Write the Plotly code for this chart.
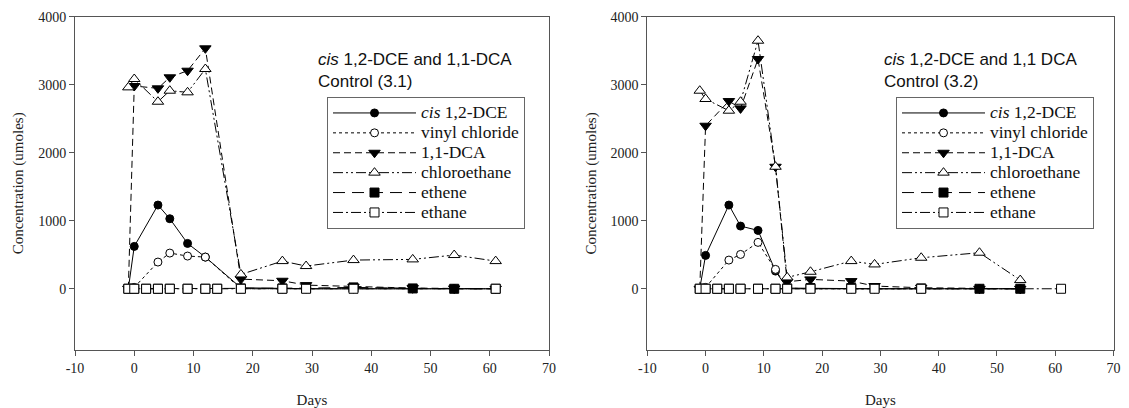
import plotly.graph_objects as go

# ---- data ----
series_names = ["<i>cis</i> 1,2-DCE", "vinyl chloride", "1,1-DCA",
                "chloroethane", "ethene", "ethane"]

# Control (3.1)
days_a = [-1, 0, 4, 6, 9, 12, 18, 25, 29, 37, 47, 54, 61]
cis_a = [0, 623, 1231, 1030, 667, 466, 15, 5, 0, 0, 0, 0, 0]
vc_a = [0, 20, 393, 525, 481, 466, 0, 0, 0, 0, 0, 0, 0]
dca_a = [0, 2981, 2947, 3109, 3206, 3535, 142, 118, 54, 30, 10, 5, 0]
ce_a = [2961, 3084, 2750, 2912, 2888, 3231, 211, 407, 334, 422, 432, 496, 407]
ethene_days_a = [-1, 0, 2, 4, 6, 9, 12, 14, 18, 25, 29, 37, 47, 54, 61]
ethene_a = [0, 0, 0, 0, 0, 0, 0, 0, 5, 5, 10, 20, 5, 0, 0]
ethane_days_a = [-1, 0, 2, 4, 6, 9, 12, 14, 18, 25, 29, 37, 61]
ethane_a = [0, 0, 0, 0, 0, 0, 0, 0, 0, 0, 0, 0, 0]

# Control (3.2)
days_b = [-1, 0, 4, 6, 9, 12, 14, 18, 25, 29, 37, 47, 54]
cis_b = [0, 491, 1231, 922, 858, 260, 10, 5, 0, 0, 0, 0, 0]
vc_b = [0, 20, 422, 505, 682, 285, 10, 0, 0, 0, 0, 0, 0]
dca_b = [0, 2397, 2760, 2652, 3378, 1794, 103, 138, 113, 40, 15, 0, 0]
ce_b = [2912, 2790, 2618, 2750, 3647, 1794, 167, 250, 407, 358, 456, 530, 128]
ethene_days_b = [-1, 0, 2, 4, 6, 9, 12, 14, 18, 25, 29, 37, 47, 54]
ethene_b = [0, 0, 0, 0, 0, 0, 0, 5, 10, 10, 10, 5, 0, 0]
ethane_days_b = [-1, 0, 2, 4, 6, 9, 12, 14, 18, 25, 29, 37, 61]
ethane_b = [0, 0, 0, 0, 0, 0, 0, 0, 0, 0, 0, 0, 0]

titles = ["<i>cis</i> 1,2-DCE and 1,1-DCA<br>Control (3.1)",
          "<i>cis</i> 1,2-DCE and 1,1 DCA<br>Control (3.2)"]

x_ticks = [-10, 0, 10, 20, 30, 40, 50, 60, 70]
x_ticklabels = ["-10", "0", "10", "20", "30", "40", "50", "60", "70"]
y_ticks = [0, 1000, 2000, 3000, 4000]

# ---- styles ----
dashes = ["solid", "dot", "7px,4px", "10px,3px,2px,3px,2px,3px", "12px,7px", "10px,3px,2px,3px"]
symbols = ["circle", "circle", "triangle-down", "triangle-up", "square", "square"]
fills = ["black", "white", "black", "white", "black", "white"]
sizes = [8, 8, 10, 10, 9, 9]

panels = [
    ([days_a, days_a, days_a, days_a, ethene_days_a, ethane_days_a],
     [cis_a, vc_a, dca_a, ce_a, ethene_a, ethane_a], "x", "y", "legend"),
    ([days_b, days_b, days_b, days_b, ethene_days_b, ethane_days_b],
     [cis_b, vc_b, dca_b, ce_b, ethene_b, ethane_b], "x2", "y2", "legend2"),
]

fig = go.Figure()
for xs_list, ys_list, xa, ya, leg in panels:
    for i in range(6):
        fig.add_trace(go.Scatter(
            x=xs_list[i], y=ys_list[i], xaxis=xa, yaxis=ya, legend=leg,
            # larger text, but the legend's row height follows the smaller legend font
            name='<span style="font-size:17.5px">' + series_names[i] + "</span>",
            mode="lines+markers",
            line=dict(color="black", width=1, dash=dashes[i]),
            marker=dict(symbol=symbols[i], size=sizes[i], color=fills[i],
                        line=dict(color="black", width=1)),
        ))

# the page body has an 8px margin: lay out in a figure that fits inside it
OFF = 8
W, H = 1129 - 2 * OFF, 408 - OFF

def px(x):
    return (x - OFF) / W

def py(y):
    return 1 - (y - OFF) / H

axis_col = "#555555"
tickfont = dict(family="Liberation Serif", size=14, color="#222222")
titlefont = dict(family="Liberation Serif", size=15, color="#222222")

def xax(dom, anchor):
    return dict(domain=dom, range=[-10, 70], tickvals=x_ticks, ticktext=x_ticklabels,
                ticks="outside", ticklen=5, tickcolor=axis_col, showline=True,
                linecolor=axis_col, linewidth=1, mirror=True, showgrid=False,
                zeroline=False, tickfont=tickfont, automargin=False, anchor=anchor,
                ticklabeloverflow="allow",
                title=dict(text="Days", font=titlefont, standoff=23))

def yax(anchor):
    return dict(domain=[py(350), py(16.7)], range=[-900, 4000], tickvals=y_ticks,
                ticks="outside", ticklen=5, tickcolor=axis_col, showline=True,
                linecolor=axis_col, linewidth=1, mirror=True, showgrid=False,
                zeroline=False, tickfont=tickfont, automargin=False, anchor=anchor,
                ticklabeloverflow="allow",
                title=dict(text="Concentration (umoles)", font=titlefont, standoff=10))

legend_style = dict(xanchor="left", yanchor="top", bgcolor="white",
                    bordercolor="#666666", borderwidth=1, itemwidth=83,
                    font=dict(family="Liberation Serif", size=13, color="#111111"),
                    tracegroupgap=0, itemclick=False)

fig.update_layout(
    width=W, height=H, template="none", showlegend=True,
    paper_bgcolor="white", plot_bgcolor="white",
    margin=dict(l=0, r=0, t=0, b=0),
    xaxis=xax([px(75), px(549)], "y"), yaxis=yax("x"),
    xaxis2=xax([px(647.3), px(1113.5)], "y2"), yaxis2=yax("x2"),
    legend=dict(x=px(327), y=py(97), **legend_style),
    legend2=dict(x=px(896), y=py(97), **legend_style),
)

for j, tx in enumerate([316, 882]):
    fig.add_annotation(text=titles[j], xref="paper", yref="paper", x=px(tx), y=py(70),
                       xanchor="left", yanchor="middle", align="left", showarrow=False,
                       font=dict(family="Liberation Sans", size=17, color="#111111"))

fig.write_html("out.html")
